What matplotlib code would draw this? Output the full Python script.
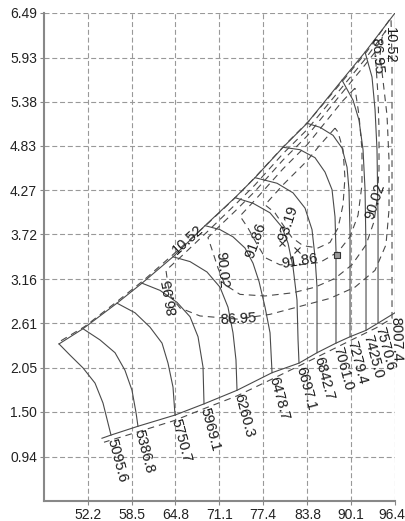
import matplotlib.pyplot as plt
import matplotlib.transforms as mtransforms

plt.rcParams['font.family'] = ['Liberation Sans', 'DejaVu Sans']

# speed lines, read from surge end to choke end (flow, pressure ratio)
n5095_x = [48.06, 49.64, 51.51, 53.24, 54.39, 55.25, 55.54]
n5095_y = [2.35, 2.21, 2.05, 1.86, 1.61, 1.31, 1.21]
n5387_x = [51.51, 53.96, 56.12, 57.55, 58.56, 59.14, 59.42]
n5387_y = [2.54, 2.40, 2.24, 2.02, 1.77, 1.49, 1.32]
n5751_x = [56.40, 58.99, 61.15, 62.88, 63.74, 64.46, 64.75]
n5751_y = [2.86, 2.74, 2.56, 2.36, 2.11, 1.81, 1.46]
n5969_x = [60.00, 62.59, 65.04, 66.91, 68.06, 68.78, 68.92]
n5969_y = [3.11, 3.02, 2.87, 2.69, 2.44, 2.06, 1.60]
n6260_x = [64.46, 66.91, 69.35, 71.22, 72.37, 73.09, 73.52, 73.67]
n6260_y = [3.44, 3.38, 3.25, 3.06, 2.81, 2.49, 2.15, 1.77]
n6479_x = [69.07, 71.22, 73.09, 74.82, 75.97, 76.84, 77.70, 78.42, 78.71]
n6479_y = [3.83, 3.78, 3.69, 3.55, 3.36, 3.13, 2.81, 2.49, 1.99]
n6697_x = [73.38, 75.97, 78.42, 80.15, 81.01, 81.73, 82.30, 82.45, 82.59]
n6697_y = [4.18, 4.11, 3.99, 3.81, 3.61, 3.31, 2.90, 2.40, 2.11]
n6843_x = [76.26, 79.43, 81.73, 83.45, 84.46, 84.89, 85.18, 85.18]
n6843_y = [4.43, 4.36, 4.24, 4.05, 3.78, 3.44, 3.06, 2.24]
n7061_x = [80.29, 82.73, 84.89, 86.33, 87.34, 87.77, 87.91, 87.91]
n7061_y = [4.81, 4.78, 4.68, 4.50, 4.28, 3.94, 3.52, 2.36]
n7279_x = [83.74, 85.61, 87.48, 88.78, 89.50, 89.78, 89.93, 89.93]
n7279_y = [5.11, 5.06, 4.96, 4.80, 4.56, 4.28, 3.74, 2.44]
n7425_x = [88.78, 90.36, 91.22, 91.80, 92.09, 92.23, 92.23]
n7425_y = [5.65, 5.40, 5.15, 4.78, 4.28, 3.52, 2.52]
n7571_x = [92.09, 93.09, 93.53, 93.81, 93.96, 93.96]
n7571_y = [6.00, 5.69, 5.28, 4.78, 3.90, 2.61]
n8007_x = [96.40, 96.40]
n8007_y = [6.49, 2.74]

speed_labels = ['5095.6', '5386.8', '5750.7', '5969.1', '6260.3', '6478.7', '6697.1',
                '6842.7', '7061.0', '7279.4', '7425.0', '7570.6', '8007.4']
choke_start = (54.24, 1.17)

# dashed line 10.52 (along surge, right edge, choke)
l1052_x = [48.35, 51.80, 56.69, 60.29, 64.75, 69.64, 73.67, 76.54, 80.57, 84.03, 89.06,
           92.37, 95.82, 95.97, 95.97, 93.67, 89.92, 84.60, 78.70, 73.67, 68.92, 64.60,
           59.42, 54.53]
l1052_y = [2.39, 2.57, 2.90, 3.15, 3.49, 3.87, 4.20, 4.46, 4.84, 5.14, 5.66,
           6.01, 6.43, 5.90, 2.67, 2.55, 2.39, 2.16, 1.91, 1.70, 1.54, 1.39,
           1.25, 1.12]

# efficiency contours
e8695_x = [95.10, 92.08, 88.77, 83.74, 80.28, 76.26, 73.38, 69.35, 65.47, 63.45, 63.74,
           64.17, 65.47, 68.34, 73.81, 78.41, 82.73, 87.05, 90.64, 93.52, 95.10, 95.54,
           95.54, 95.25, 94.67, 94.24, 94.53, 95.10]
e8695_y = [6.27, 5.91, 5.56, 5.03, 4.73, 4.34, 4.09, 3.75, 3.43, 3.27, 3.09,
           2.94, 2.80, 2.70, 2.66, 2.72, 2.82, 2.92, 3.06, 3.27, 3.59, 4.03,
           4.65, 5.21, 5.65, 5.96, 6.18, 6.27]
e9002_x = [93.52, 92.08, 88.77, 83.74, 80.28, 76.26, 73.38, 70.50, 69.49, 70.07, 70.93,
           71.94, 74.10, 77.70, 81.72, 84.89, 87.77, 90.21, 92.23, 93.38, 93.81, 94.10,
           94.10, 93.95, 93.67, 93.52]
e9002_y = [6.00, 5.84, 5.49, 4.95, 4.65, 4.26, 4.01, 3.77, 3.68, 3.53, 3.30,
           3.09, 2.97, 2.95, 2.99, 3.06, 3.17, 3.34, 3.59, 3.88, 4.15, 4.53,
           5.03, 5.46, 5.84, 6.00]
e9186_x = [90.64, 88.77, 85.61, 83.74, 80.28, 76.26, 74.10, 75.25, 76.40, 77.70, 79.85,
           82.73, 85.61, 88.20, 89.92, 91.08, 91.65, 91.65, 91.22, 90.64]
e9186_y = [5.55, 5.38, 5.04, 4.84, 4.54, 4.15, 3.95, 3.80, 3.62, 3.43, 3.34,
           3.34, 3.37, 3.50, 3.69, 3.96, 4.34, 4.78, 5.21, 5.55]
e9319_x = [87.77, 85.61, 83.74, 80.28, 77.70, 79.13, 80.28, 81.58, 83.16, 85.32, 87.05,
           88.20, 88.92, 89.20, 88.92, 88.20, 87.77]
e9319_y = [5.05, 4.84, 4.64, 4.34, 4.09, 3.99, 3.84, 3.68, 3.58, 3.55, 3.62,
           3.80, 4.09, 4.43, 4.78, 5.00, 5.05]

# contour labels: text, flow, pr, rotation
lab_text = ['10.52', '10.52', '86.95', '86.95', '86.95', '90.02', '90.02', '91.86', '91.86', '93.19']
lab_x = [66.62, 95.68, 64.03, 73.81, 93.81, 71.51, 93.52, 76.40, 82.73, 81.00]
lab_y = [3.65, 6.09, 2.94, 2.66, 5.96, 3.27, 4.14, 3.65, 3.38, 3.86]
lab_rot = [42, -90, 100, 3, -85, -85, 72, 70, 9, 72]

peak_x = [80.15, 82.30]
peak_y = [3.61, 3.52]
design_x = [88.06]
design_y = [3.46]

xticks = [52.2, 58.5, 64.8, 71.1, 77.4, 83.8, 90.1, 96.4]
yticks = [0.94, 1.50, 2.05, 2.61, 3.16, 3.72, 4.27, 4.83, 5.38, 5.93, 6.49]

speed_x = [n5095_x, n5387_x, n5751_x, n5969_x, n6260_x, n6479_x, n6697_x,
           n6843_x, n7061_x, n7279_x, n7425_x, n7571_x, n8007_x]
speed_y = [n5095_y, n5387_y, n5751_y, n5969_y, n6260_y, n6479_y, n6697_y,
           n6843_y, n7061_y, n7279_y, n7425_y, n7571_y, n8007_y]

fig = plt.figure(figsize=(4.06, 5.21), dpi=100)
ax = fig.add_axes([44/406, 20/521, 351/406, 488/521])

lc = '#4a4a4a'
for xs, ys, lab in zip(speed_x, speed_y, speed_labels):
    ax.plot(xs, ys, color=lc, lw=0.8)
    rot = -88 if lab == '8007.4' else -75
    ax.annotate(lab, (xs[-1], ys[-1]), xytext=(0.5, -3), textcoords='offset points',
                rotation=rot, rotation_mode='anchor', ha='left', va='center',
                fontsize=10.5, color='#1a1a1a')

# surge and choke lines
ax.plot([x[0] for x in speed_x], [y[0] for y in speed_y], color=lc, lw=0.8)
ax.plot([choke_start[0]] + [x[-1] for x in speed_x],
        [choke_start[1]] + [y[-1] for y in speed_y], color=lc, lw=0.8)

dash = (0, (6, 4.5))
ax.plot(l1052_x, l1052_y, color=lc, lw=0.8, ls=dash)
for cx, cy in [(e8695_x, e8695_y), (e9002_x, e9002_y), (e9186_x, e9186_y), (e9319_x, e9319_y)]:
    ax.plot(cx, cy, color=lc, lw=0.8, ls=dash)

for t, x, y, r in zip(lab_text, lab_x, lab_y, lab_rot):
    ax.text(x, y, t, rotation=r, rotation_mode='anchor', ha='center', va='center',
            fontsize=10.5, color='#1a1a1a')

ax.plot(peak_x, peak_y, 'x', color='#333333', ms=4, mew=0.8)
ax.plot(design_x, design_y, 's', color='#333333', mfc='#999999', ms=4, mew=0.8)

ax.set_xlim(45.9, 96.4)
ax.set_ylim(0.385, 6.49)
ax.set_xticks(xticks)
ax.set_xticklabels(['%.1f' % v for v in xticks])
ax.set_yticks(yticks)
ax.set_yticklabels(['%.2f' % v for v in yticks])
ax.grid(True, color='#999999', lw=0.8, ls=(0, (4.5, 2.5)))
ax.set_axisbelow(True)
for s in ['top', 'right']:
    ax.spines[s].set_visible(False)
for s in ['left', 'bottom']:
    ax.spines[s].set_color('#888888')
    ax.spines[s].set_linewidth(1.5)
ax.tick_params(direction='out', length=3, color='#888888', labelsize=10,
               labelcolor='#222222', pad=2)

# keep the last x tick label inside the figure
last = ax.get_xticklabels()[-1]
last.set_transform(last.get_transform() + mtransforms.ScaledTranslation(-3/100, 0, fig.dpi_scale_trans))

fig.savefig('out.png', dpi=100)
